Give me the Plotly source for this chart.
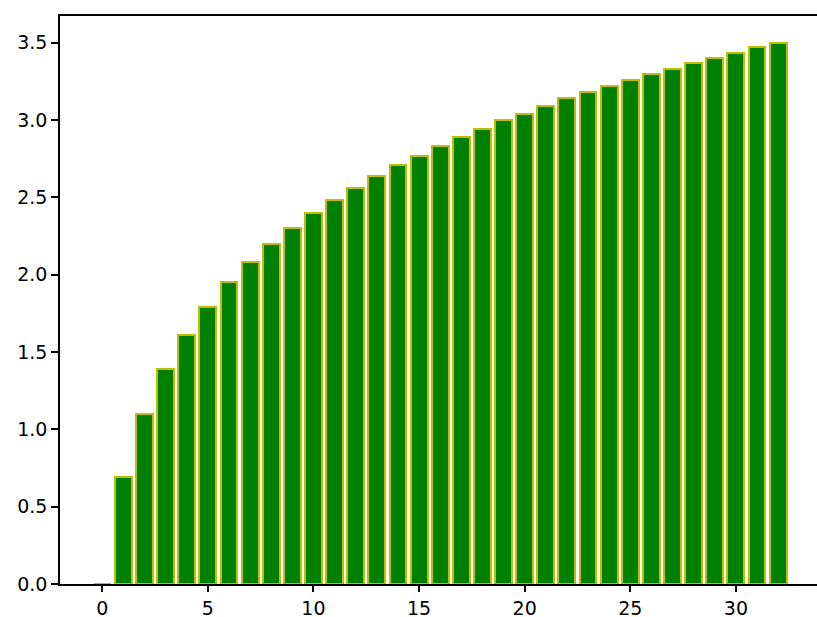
import plotly.graph_objects as go

x_vals = list(range(33))
heights = [0.00, 0.69, 1.10, 1.39, 1.61, 1.79, 1.95, 2.08, 2.20, 2.30, 2.40,
           2.48, 2.56, 2.64, 2.71, 2.77, 2.83, 2.89, 2.94, 3.00, 3.04,
           3.09, 3.14, 3.18, 3.22, 3.26, 3.30, 3.33, 3.37, 3.40, 3.43,
           3.47, 3.50]
x_ticks = [0, 5, 10, 15, 20, 25, 30]
y_ticks = [0.0, 0.5, 1.0, 1.5, 2.0, 2.5, 3.0, 3.5]

fig = go.Figure(go.Bar(
    x=x_vals, y=heights, width=0.8,
    marker=dict(color="green", line=dict(color="#bfbf00", width=2)),
))

fig.update_layout(
    width=817, height=617,
    margin=dict(l=60, r=0, t=16, b=33),
    plot_bgcolor="white", paper_bgcolor="white",
    font=dict(family="DejaVu Sans", size=19, color="black"),
    showlegend=False,
    bargap=0,
)
fig.update_xaxes(
    range=[-2.0, 33.84], tickvals=x_ticks, ticktext=[str(t) for t in x_ticks],
    showgrid=False, zeroline=False, showline=True, linecolor="black", linewidth=1.6,
    mirror=True, ticks="outside", ticklen=6, tickwidth=1.6, tickcolor="black",
    automargin=False,
)
fig.update_yaxes(
    range=[0, 3.672], tickvals=y_ticks, ticktext=[f"{t:.1f}" for t in y_ticks],
    showgrid=False, zeroline=False, showline=True, linecolor="black", linewidth=1.6,
    ticks="outside", ticklen=7, tickwidth=1.6, tickcolor="black",
    automargin=False,
)

fig.write_html(
    "out.html",
    config={"displayModeBar": False},
    post_script="document.body.style.margin='0';document.body.style.overflow='hidden';",
)
